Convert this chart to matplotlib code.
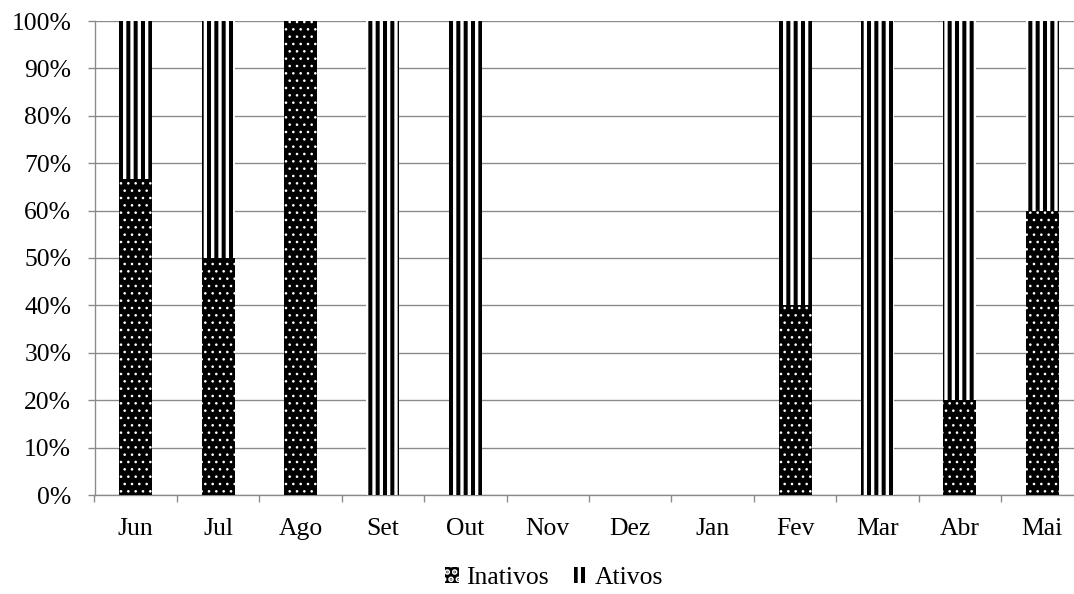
import numpy as np
import matplotlib
matplotlib.use("Agg")
import matplotlib.pyplot as plt
from matplotlib.ticker import PercentFormatter, FixedLocator

plt.rcParams['font.family'] = ['Liberation Serif', 'DejaVu Serif']

meses = ["Jun", "Jul", "Ago", "Set", "Out", "Nov", "Dez", "Jan", "Fev", "Mar", "Abr", "Mai"]
inativos = [66.7, 50, 100, 0, 0, 0, 0, 0, 40, 0, 20, 60]
ativos = [33.3, 50, 0, 100, 100, 0, 0, 0, 60, 100, 80, 40]

DPI = 88
fig = plt.figure(figsize=(1074 / DPI, 594 / DPI), dpi=DPI)
ax = fig.add_axes([94.5 / 1074, 99 / 594, 989 / 1074, 474 / 594])

x = np.arange(len(meses))
w = 0.4
grid_c = "#8a8a8a"
fs = 21

plt.rcParams['hatch.linewidth'] = 0.9
b1 = ax.bar(x, np.array(inativos) / 100, w, color="black", edgecolor="white",
            linewidth=0, hatch="..", label="Inativos", zorder=3)
plt.rcParams['hatch.linewidth'] = 3.3
b2 = ax.bar(x, np.array(ativos) / 100, w, bottom=np.array(inativos) / 100,
            color="white", edgecolor="black", linewidth=0, hatch="||",
            label="Ativos", zorder=3)
for p in b1:
    if hasattr(p, "set_hatch_linewidth"):
        p.set_hatch_linewidth(0.9)
for p in b2:
    if hasattr(p, "set_hatch_linewidth"):
        p.set_hatch_linewidth(3.3)

ax.set_xlim(-0.5, len(meses) - 0.5)
ax.set_ylim(0, 1)
ax.set_yticks(np.arange(0, 1.01, 0.1))
ax.yaxis.set_major_formatter(PercentFormatter(1.0, decimals=0))
ax.grid(axis="y", color=grid_c, linewidth=1.1, zorder=0)

ax.set_xticks(x)
ax.set_xticklabels(meses)
ax.xaxis.set_minor_locator(FixedLocator(np.arange(-0.5, len(meses), 1.0)))
ax.tick_params(axis="x", which="major", length=0, pad=19, labelsize=fs)
ax.tick_params(axis="x", which="minor", length=6, width=1.1, color=grid_c, direction="out")
ax.tick_params(axis="y", length=6, width=1.1, color=grid_c, pad=13, labelsize=fs)

for s in ["top", "right"]:
    ax.spines[s].set_visible(False)
for s in ["left", "bottom"]:
    ax.spines[s].set_color(grid_c)
    ax.spines[s].set_linewidth(1.1)

fig.legend(handles=[b1, b2], loc="center", bbox_to_anchor=(554 / 1074, 16 / 594),
           ncol=2, frameon=False, fontsize=fs, handlelength=0.55,
           handleheight=0.55, handletextpad=0.25, columnspacing=1.0)

fig.savefig("out.png", dpi=DPI)
